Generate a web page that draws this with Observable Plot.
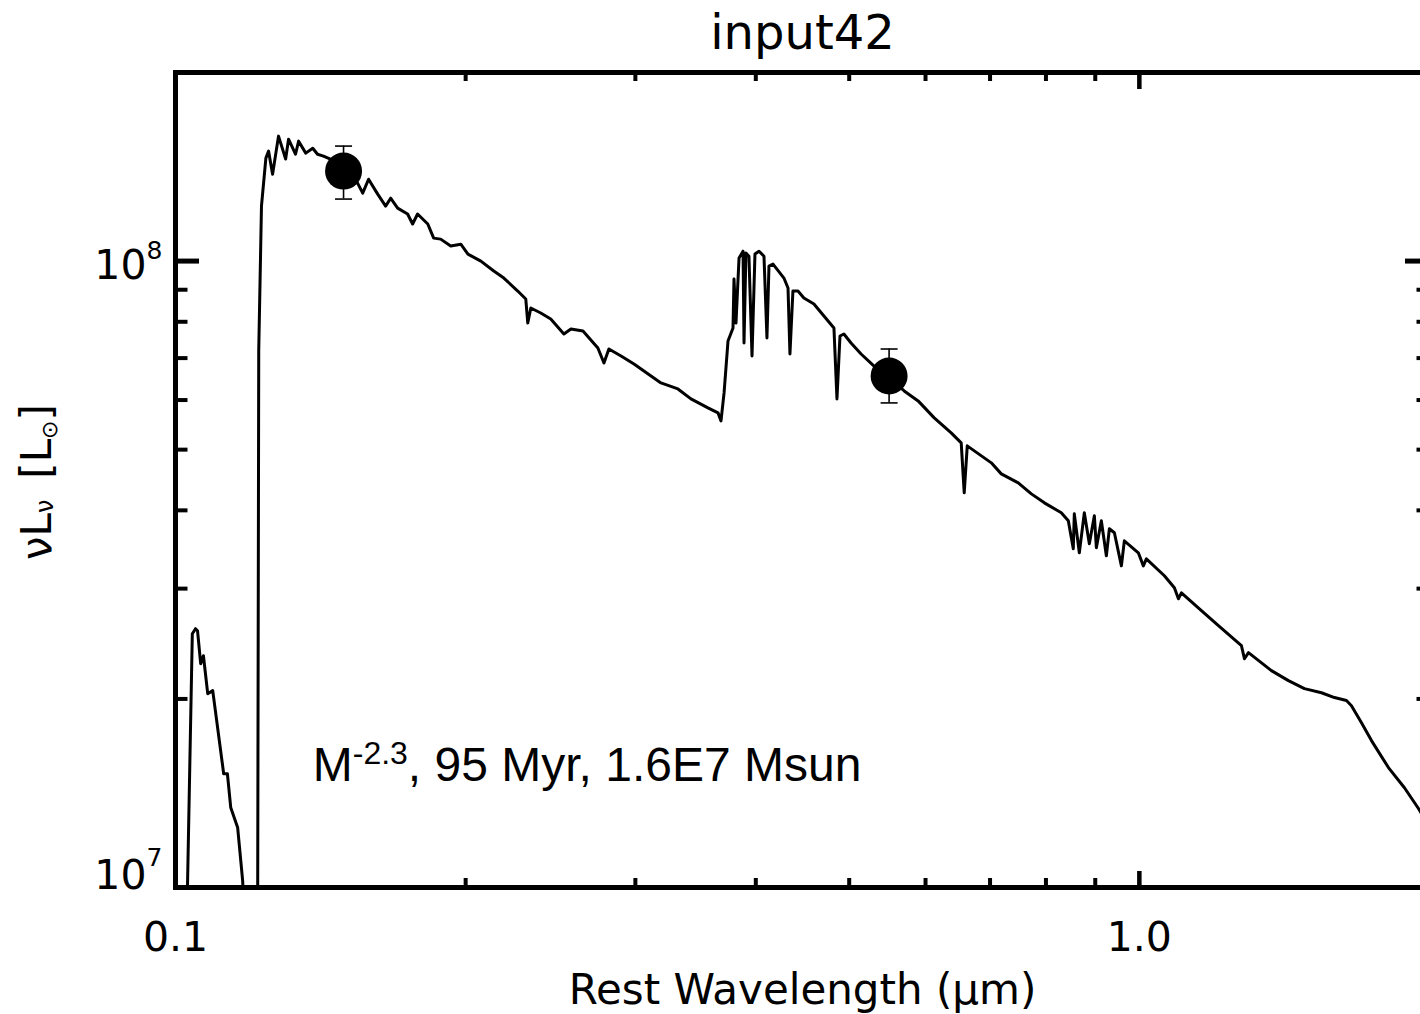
<!DOCTYPE html>
<html><head><meta charset="utf-8">
<script src="https://cdn.jsdelivr.net/npm/d3@7"></script>
<script src="https://cdn.jsdelivr.net/npm/@observablehq/plot@0.6"></script>
<style>html,body{margin:0;padding:0;background:#fff;overflow:hidden;width:1420px;height:1014px}
#chart{width:1430px;height:1014px}
#chart svg{max-width:none !important;display:block}</style>
</head><body><div id="chart"></div>
<script>
// Model spectrum: rest wavelength (micron) and nu L_nu (L_sun)
const wavelength = [
  0.1027,0.1029,0.1041,0.1049,0.1054,0.1062,0.1069,0.1080,0.1093,0.1122,
  0.1132,0.1141,0.1160,0.1174,0.1179,0.1211,0.1217,0.1220,0.1228,0.1241,
  0.1249,0.1261,0.1279,0.1301,0.1310,0.1332,0.1342,0.1365,0.1388,0.1404,
  0.1424,0.1448,0.1473,0.1502,0.1527,0.1545,0.1564,0.1586,0.1621,0.1652,
  0.1672,0.1700,0.1741,0.1762,0.1783,0.1827,0.1853,0.1884,0.1930,0.1977,
  0.2011,0.2074,0.2139,0.2191,0.2265,0.2309,0.2320,0.2337,0.2393,0.2451,
  0.2529,0.2572,0.2647,0.2743,0.2783,0.2816,0.2899,0.2990,0.3189,0.3321,
  0.3426,0.3568,0.3655,0.3681,0.3708,0.3743,0.3788,0.3797,0.3815,0.3843,
  0.3880,0.3889,0.3907,0.3935,0.3964,0.3992,0.4031,0.4079,0.4108,0.4128,
  0.4168,0.4278,0.4320,0.4340,0.4371,0.4424,0.4487,0.4596,0.4707,0.4821,
  0.4856,0.4891,0.4937,0.5022,0.5144,0.5306,0.5500,0.5702,0.5895,0.6126,
  0.6379,0.6534,0.6581,0.6629,0.7021,0.7190,0.7488,0.7726,0.7970,0.8299,
  0.8439,0.8540,0.8561,0.8664,0.8768,0.8874,0.8981,0.9024,0.9132,0.9242,
  0.9309,0.9421,0.9580,0.9648,0.9976,1.0096,1.0169,1.0616,1.0873,1.0978,
  1.1057,1.1598,1.2079,1.2762,1.2854,1.2978,1.3709,1.4278,1.4834,1.5450,
  1.5938,1.6401,1.6598,1.7000,1.7411,1.8131,1.8838,1.9479,1.9950
];
const luminosity = [
  0.886e7,1.000e7,2.542e7,2.589e7,2.570e7,2.277e7,2.344e7,2.039e7,2.062e7,1.519e7,
  1.519e7,1.342e7,1.247e7,1.026e7,0.886e7,0.886e7,1.000e7,7.185e7,12.24e7,14.60e7,
  14.98e7,13.76e7,15.83e7,14.55e7,15.65e7,14.81e7,15.54e7,14.87e7,15.14e7,14.81e7,
  14.71e7,14.55e7,14.33e7,14.02e7,13.66e7,13.32e7,12.84e7,13.51e7,12.79e7,12.24e7,
  12.60e7,12.15e7,11.89e7,11.46e7,11.89e7,11.46e7,10.88e7,10.84e7,10.57e7,10.64e7,
  10.26e7,10.00e7,9.640e7,9.395e7,8.957e7,8.698e7,7.962e7,8.415e7,8.262e7,8.082e7,
  7.648e7,7.790e7,7.733e7,7.264e7,6.874e7,7.238e7,7.054e7,6.849e7,6.389e7,6.250e7,
  6.025e7,5.830e7,5.724e7,5.558e7,6.159e7,7.454e7,7.819e7,9.361e7,7.962e7,10.11e7,
  10.37e7,7.399e7,10.30e7,10.18e7,7.054e7,10.26e7,10.37e7,10.18e7,7.537e7,9.818e7,
  9.891e7,9.395e7,9.056e7,7.106e7,8.957e7,8.957e7,8.730e7,8.540e7,8.172e7,7.819e7,
  6.025e7,7.592e7,7.648e7,7.399e7,7.106e7,6.799e7,6.507e7,6.204e7,5.981e7,5.620e7,
  5.318e7,5.126e7,4.266e7,5.070e7,4.763e7,4.574e7,4.425e7,4.250e7,4.112e7,3.964e7,
  3.849e7,3.473e7,3.949e7,3.422e7,3.964e7,3.537e7,3.920e7,3.486e7,3.849e7,3.384e7,
  3.738e7,3.684e7,3.262e7,3.576e7,3.422e7,3.262e7,3.347e7,3.145e7,3.009e7,2.890e7,
  2.954e7,2.766e7,2.618e7,2.432e7,2.318e7,2.371e7,2.219e7,2.139e7,2.077e7,2.046e7,
  2.010e7,1.988e7,1.951e7,1.833e7,1.716e7,1.554e7,1.443e7,1.337e7,1.256e7
];
// Photometry points with error bars
const photWavelength = [0.1494, 0.5500];
const photLum = [13.92e7, 6.555e7];
const photLo = [12.56e7, 5.937e7];
const photHi = [15.26e7, 7.238e7];
// Axis ticks
const xMajor = [0.1, 1.0];
const xMajorLabels = ["0.1", "1.0"];
const xMinor = [0.2, 0.3, 0.4, 0.5, 0.6, 0.7, 0.8, 0.9];
const yMajor = [1e7, 1e8];
const yMajorBase = ["10", "10"];
const yMajorExp = ["7", "8"];
const yMinor = [2e7, 3e7, 4e7, 5e7, 6e7, 7e7, 8e7, 9e7];
const titleText = "input42";
const xLabelText = "Rest Wavelength (\u03bcm)";
const yLabelText = "\u03bdL\u03bd [L\u2299]";
const annotation = {w: 0.1388, L: 1.48e7, label: "M-2.3, 95 Myr, 1.6E7 Msun"};

const spectrum = wavelength.map((w, i) => ({w, L: luminosity[i]}));
const phot = photWavelength.map((w, i) => ({w, L: photLum[i], lo: photLo[i], hi: photHi[i]}));

const W = 1430, H = 1014, ML = 175, MR = 1, MT = 72, MB = 127;
const PW = W - ML - MR, PH = H - MT - MB;
const capSymbol = {draw(ctx) { ctx.moveTo(-8.5, 0); ctx.lineTo(8.5, 0); }};

const yLabelMarks = yMajor.flatMap((v, i) => [
  Plot.text([v], {y: d => d, frameAnchor: "left", text: () => yMajorBase[i], textAnchor: "end",
    lineAnchor: "bottom", dx: -29, dy: i === 0 ? 1 : 18, fontSize: 41}),
  Plot.text([v], {y: d => d, frameAnchor: "left", text: () => yMajorExp[i], textAnchor: "start",
    lineAnchor: "bottom", dx: -29, dy: i === 0 ? -22 : -2, fontSize: 25})
]);

const chart = Plot.plot({
  width: W, height: H,
  marginLeft: ML, marginRight: MR, marginTop: MT, marginBottom: MB,
  style: {fontFamily: "DejaVu Sans", background: "white", color: "black", overflow: "visible", maxWidth: "none"},
  x: {type: "log", domain: [0.1, 2.0], axis: null},
  y: {type: "log", domain: [1e7, 2e8], axis: null},
  marks: [
    Plot.line(spectrum, {x: "w", y: "L", stroke: "black", strokeWidth: 3, clip: true}),
    Plot.ruleX(phot, {x: "w", y1: "lo", y2: "hi", stroke: "black", strokeWidth: 1.6}),
    Plot.dot(phot, {x: "w", y: "lo", symbol: capSymbol, stroke: "black", strokeWidth: 1.6, fill: "none"}),
    Plot.dot(phot, {x: "w", y: "hi", symbol: capSymbol, stroke: "black", strokeWidth: 1.6, fill: "none"}),
    Plot.dot(phot, {x: "w", y: "L", r: 18.5, fill: "black", stroke: null}),
    Plot.tickY(yMajor, {y: d => d, insetRight: PW - 24, stroke: "black", strokeWidth: 5}),
    Plot.tickY(yMajor, {y: d => d, insetLeft: PW - 24, stroke: "black", strokeWidth: 5}),
    Plot.tickY(yMinor, {y: d => d, insetRight: PW - 12.5, stroke: "black", strokeWidth: 4}),
    Plot.tickY(yMinor, {y: d => d, insetLeft: PW - 12.5, stroke: "black", strokeWidth: 4}),
    Plot.tickX(xMajor, {x: d => d, insetTop: PH - 16, stroke: "black", strokeWidth: 4.5}),
    Plot.tickX(xMajor, {x: d => d, insetBottom: PH - 17, stroke: "black", strokeWidth: 4.5}),
    Plot.tickX(xMinor, {x: d => d, insetTop: PH - 9, stroke: "black", strokeWidth: 4}),
    Plot.tickX(xMinor, {x: d => d, insetBottom: PH - 9, stroke: "black", strokeWidth: 4}),
    Plot.frame({stroke: "black", strokeWidth: 5}),
    Plot.text(xMajor, {x: d => d, text: (d, i) => xMajorLabels[i], frameAnchor: "bottom",
      lineAnchor: "bottom", dy: 63, fontSize: 41}),
    ...yLabelMarks,
    Plot.text([titleText], {text: d => d, frameAnchor: "top", lineAnchor: "bottom", dy: -24, fontSize: 48}),
    Plot.text([xLabelText], {text: d => d, frameAnchor: "bottom", lineAnchor: "bottom", dy: 116, fontSize: 42}),
    Plot.text([yLabelText], {text: d => d, frameAnchor: "left", textAnchor: "middle", rotate: -90,
      lineAnchor: "bottom", dx: -125, dy: 2, fontSize: 42}),
    Plot.text([annotation], {x: "w", y: "L", text: "label", textAnchor: "start", lineAnchor: "bottom",
      fontFamily: "Liberation Sans", fontSize: 48})
  ]
});
chart.style.maxWidth = "none";
document.getElementById("chart").appendChild(chart);

// Rich text (superscripts / subscripts) as tspans
const SVGNS = "http://www.w3.org/2000/svg";
function rich(content, parts) {
  const el = Array.from(chart.querySelectorAll("text")).find(t => t.textContent === content);
  if (!el) return;
  el.textContent = "";
  for (const p of parts) {
    const ts = document.createElementNS(SVGNS, "tspan");
    ts.textContent = p.t;
    if (p.size) ts.setAttribute("font-size", p.size);
    if (p.dy) ts.setAttribute("dy", p.dy);
    el.appendChild(ts);
  }
}
rich(annotation.label, [
  {t: "M"}, {t: "-2.3", size: 32, dy: -17}, {t: ", 95 Myr, 1.6E7 Msun", size: 48, dy: 17}
]);
rich(yLabelText, [
  {t: "\u03bdL"}, {t: "\u03bd", size: 24, dy: 2}, {t: "\u2002[L", size: 42, dy: -2},
  {t: "\u2299", size: 22, dy: 6}, {t: "]", size: 42, dy: -6}
]);
</script>
</body></html>
